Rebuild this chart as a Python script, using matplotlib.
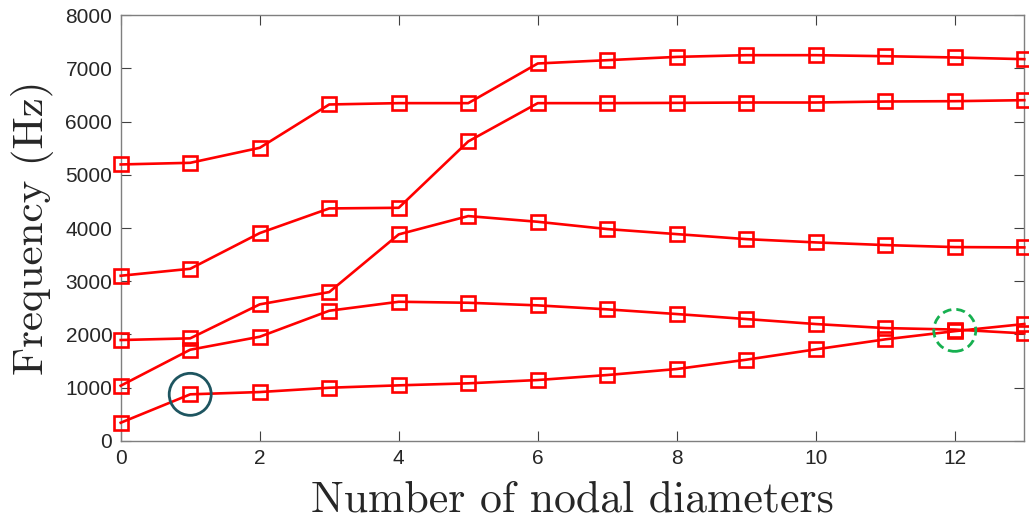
import matplotlib
matplotlib.use("Agg")
import matplotlib.pyplot as plt
from matplotlib.patches import Ellipse

# Nodal diameter index
nodal_diameters = list(range(14))

# Natural frequency families (Hz), one list per curve
family_1 = [5195, 5226, 5508, 6323, 6348, 6348, 7094, 7156, 7218, 7250, 7250, 7231, 7207, 7175]
family_2 = [3102, 3233, 3904, 4368, 4380, 5628, 6348, 6348, 6353, 6360, 6360, 6379, 6385, 6404]
family_3 = [1893, 1925, 2564, 2795, 3880, 4224, 4117, 3980, 3885, 3791, 3729, 3679, 3641, 3635]
family_4 = [1034, 1711, 1955, 2444, 2613, 2594, 2545, 2470, 2382, 2288, 2194, 2118, 2090, 2018]
family_5 = [338, 872, 915, 996, 1041, 1079, 1141, 1235, 1348, 1523, 1718, 1906, 2060, 2194]

families = [family_1, family_2, family_3, family_4, family_5]

# Highlighted points (nodal diameter, frequency)
highlight_solid = (1, 872)
highlight_dashed = (12, 2075)

x_ticks = [0, 2, 4, 6, 8, 10, 12]
y_ticks = [0, 1000, 2000, 3000, 4000, 5000, 6000, 7000, 8000]

fig = plt.figure(figsize=(10.29, 5.29), dpi=100)
ax = fig.add_axes([120.7 / 1029, 1 - 440.7 / 529, (1024.3 - 120.7) / 1029, (440.7 - 15.3) / 529])

for fam in families:
    ax.plot(nodal_diameters, fam, color="#ff0000", linewidth=1.9,
            marker="s", markersize=10, markerfacecolor="none",
            markeredgecolor="#ff0000", markeredgewidth=1.9, clip_on=False, zorder=3)

ax.set_xlim(0, 13)
ax.set_ylim(0, 8000)

# Circle outlines sized in pixels, converted to data units
px_x = 13 / ax.get_position().width / 1029
px_y = 8000 / ax.get_position().height / 529
diam = 42
ax.add_patch(Ellipse(highlight_solid, width=diam * px_x, height=diam * px_y,
                     fill=False, edgecolor="#1e5560", linewidth=2.0, zorder=4))
ax.add_patch(Ellipse(highlight_dashed, width=diam * px_x, height=diam * px_y,
                     fill=False, edgecolor="#16b050", linewidth=2.0,
                     linestyle=(0, (3.2, 1.8)), zorder=4))

ax.set_xticks(x_ticks)
ax.set_yticks(y_ticks)
ax.tick_params(direction="in", length=7, width=0.8, color="#404040",
               top=True, right=True, labelsize=15, labelcolor="#262626", pad=6)
for lab in ax.get_xticklabels() + ax.get_yticklabels():
    lab.set_family("Liberation Sans")
for sp in ax.spines.values():
    sp.set_color("#7f7f7f")
    sp.set_linewidth(1.0)

ax.set_xlabel("Number of nodal diameters", family="cmr10", fontsize=31.5, color="#262626", labelpad=9)
ax.set_ylabel("Frequency (Hz)", family="cmr10", fontsize=31, color="#262626", labelpad=8)

fig.savefig("out.png", dpi=100)
